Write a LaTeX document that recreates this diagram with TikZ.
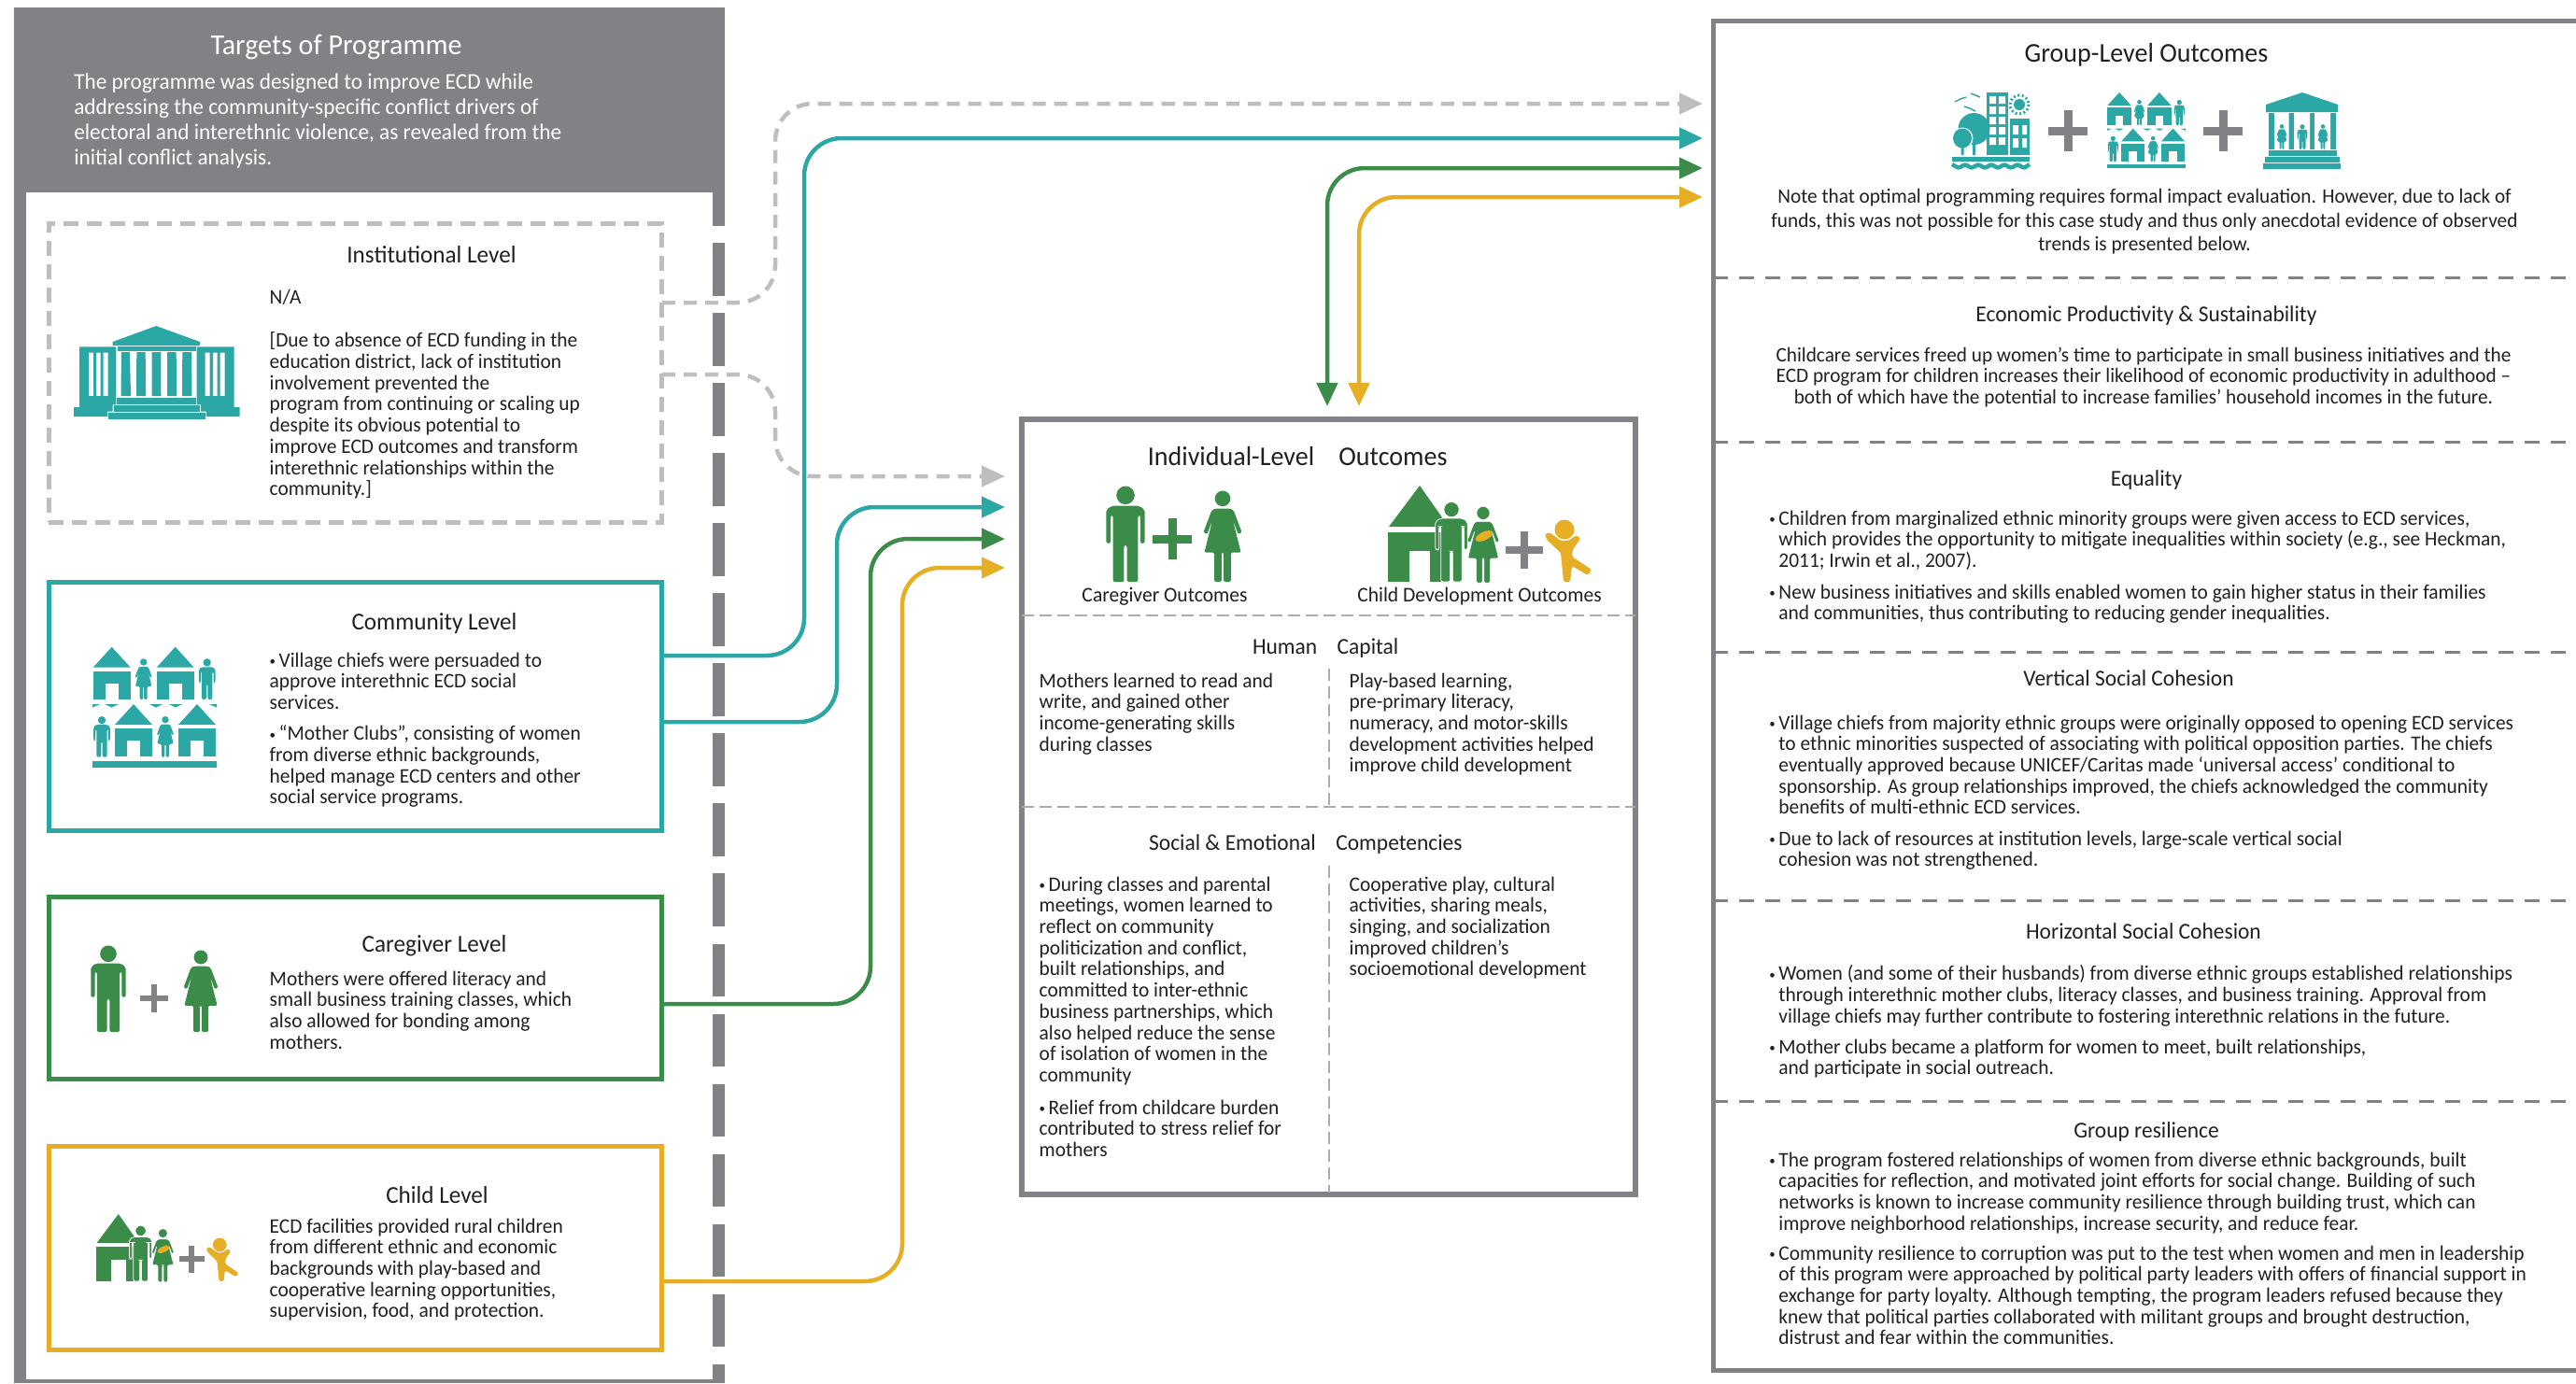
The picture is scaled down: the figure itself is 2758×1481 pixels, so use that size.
\documentclass[tikz,border=0pt]{standalone}
\usepackage{fontspec}
\setmainfont[FakeStretch=0.967]{Carlito}
\usetikzlibrary{arrows.meta}
\definecolor{tealc}{HTML}{2BA8A5}
\definecolor{greenc}{HTML}{3A8C48}
\definecolor{yellowc}{HTML}{E5AE25}
\definecolor{grayc}{HTML}{808285}
\definecolor{lightc}{HTML}{BCBEC0}
\definecolor{inkc}{HTML}{231F20}
\def\tiptri{Triangle[length=0.25cm,width=0.22cm]}
\def\smalldot{\raisebox{0.35pt}{\fontsize{3.8}{4}\selectfont •}\hspace{1pt}}
\tikzset{
	bodytext/.style={inner sep=0, anchor=north west, align=left, text=inkc, font=\fontsize{6.3}{6.46}\selectfont},
	captext/.style={inner sep=0, text=inkc, text height=5.5pt, text depth=1.5pt, font=\fontsize{6.35}{8}\selectfont},
	headtext/.style={inner sep=0, text=inkc, text height=5.5pt, text depth=1.5pt, font=\fontsize{6.9}{8}\selectfont},
	levelhead/.style={inner sep=0, text=inkc, text height=6pt, text depth=1.2pt, font=\fontsize{7.4}{9}\selectfont},
	bigtext/.style={inner sep=0, text=inkc, text height=6.5pt, text depth=1.5pt, font=\fontsize{8.25}{10}\selectfont},
	levelbox/.style={rectangle, inner sep=0, outer sep=0, minimum width=6.565cm, line width=0.05cm},
	flowline/.style={line width=0.045cm, rounded corners=0.4cm, -{\tiptri}},
	grayflow/.style={flowline, color=lightc, dash pattern=on 0.14cm off 0.09cm},
	twoflow/.style={line width=0.045cm, rounded corners=0.4cm, {\tiptri}-{\tiptri}},
	rowdash/.style={color=grayc, line width=0.03cm, dash pattern=on 0.16cm off 0.12cm},
	celldash/.style={color=lightc!70!grayc, line width=0.02cm, dash pattern=on 0.13cm off 0.06cm},
	manicon/.pic={
		\path[pic actions] (0, 10) circle (9.5);
		\path[pic actions, rounded corners=0.6pt] (-20, 60) -- (-20, 25) -- (-14, 21) -- (14, 21) -- (20, 25) -- (20, 60) -- (15.5, 60) -- (15.5, 31) -- (13, 31) -- (13, 100) -- (1.5, 100) -- (1.5, 62) -- (-1.5, 62) -- (-1.5, 100) -- (-13, 100) -- (-13, 31) -- (-15.5, 31) -- (-15.5, 60) -- cycle;
	},
	womanicon/.pic={
		\path[pic actions] (0, 9) circle (8.5);
		\path[pic actions, rounded corners=0.4pt] (-8, 20) -- (8, 20) -- (12, 22) -- (21, 46) -- (17, 48) -- (11, 32) -- (20, 68) -- (9, 68) -- (9, 100) -- (1.2, 100) -- (1.2, 68) -- (-1.2, 68) -- (-1.2, 100) -- (-9, 100) -- (-9, 68) -- (-20, 68) -- (-11, 32) -- (-17, 48) -- (-21, 46) -- (-12, 22) -- cycle;
	},
	houseicon/.pic={
		\path[pic actions] (-20, 22) -- (0, 0) -- (20, 22) -- cycle;
		\path[pic actions] (-20, 26) rectangle (20, 56);
		\fill[white] (-7, 39) rectangle (7, 56);
	},
	plusicon/.pic={
		\path[pic actions] (-21, -4.5) rectangle (21, 4.5);
		\path[pic actions] (-4.5, -22) rectangle (4.5, 22);
	},
	villageicon/.pic={
		\pic[fill=tealc, transform shape] at (20.7, 0) {houseicon};
		\pic[fill=tealc, transform shape, scale=0.44] at (54.7, 12.3) {womanicon};
		\pic[fill=tealc, transform shape] at (88.7, 0) {houseicon};
		\pic[fill=tealc, transform shape, scale=0.44] at (122.7, 12.3) {manicon};
		\fill[tealc] (0, 61.3) -- (8, 61.3) -- (0, 64.8) -- cycle (13, 61.3) -- (28, 61.3) -- (20.5, 64.8) -- cycle (61, 61.3) -- (75, 61.3) -- (68, 64.8) -- cycle (82, 61.3) -- (96, 61.3) -- (89, 64.8) -- cycle (125, 61.3) -- (133, 61.3) -- (133, 64.8) -- cycle;
		\pic[fill=tealc, transform shape, scale=0.44] at (10, 74) {manicon};
		\pic[fill=tealc, transform shape] at (44, 61.3) {houseicon};
		\pic[fill=tealc, transform shape, scale=0.44] at (78, 74) {womanicon};
		\pic[fill=tealc, transform shape] at (112, 61.3) {houseicon};
		\fill[tealc] (0, 122.3) rectangle (133, 129.3);
	},
	familyicon/.pic={
		\fill[greenc] (1, 44) -- (34, 0) -- (65, 44) -- cycle;
		\fill[greenc] (0, 50) rectangle (65, 103);
		\fill[white] (23, 70) rectangle (45, 103);
		\pic[fill=greenc, draw=white, line width=0.008cm, transform shape, scale=0.86] at (68, 17) {manicon};
		\pic[fill=greenc, draw=white, line width=0.004cm, transform shape, scale=0.82] at (102, 22) {womanicon};
		\fill[yellowc, rotate around={25:(103, 54)}] (103, 54) ellipse (10 and 4.5);
		\pic[fill=grayc, transform shape, scale=0.93] at (146, 69) {plusicon};
		\fill[yellowc] (189, 47) circle (10.5);
		\fill[yellowc, rounded corners=0.5pt] (168, 52) -- (173, 50) -- (185, 59) -- (193, 59) -- (202, 53) -- (206, 57) -- (198, 68) -- (197, 76) -- (218, 90) -- (214, 96) -- (197, 86) -- (195, 103) -- (188, 103) -- (185, 72) -- (170, 58) -- cycle;
	},
}

\begin{document}
\begin{tikzpicture}[x=0.01cm, y=-0.01cm]
	%%%%% START %%%%%
	\useasboundingbox (0, 0) rectangle (2758, 1481);

	\draw[color=grayc, line width=0.13cm, dash pattern=on 0.566cm off 0.184cm] (769.5, 185) -- (769.5, 1481);
	\fill[grayc] (15, 8) rectangle (776, 206);
	\fill[grayc] (15, 206) rectangle (28, 1481);
	\fill[grayc] (15, 1477) rectangle (763, 1481);

	\node[bigtext, text=white, font=\fontsize{8.85}{10}\selectfont] (targets) at (360, 50) {Targets of Programme};
	\node[bodytext, text=white, font=\fontsize{6.85}{7.7}\selectfont] (targetstext) at (78.6, 78) {The programme was designed to improve ECD while\\addressing the community-specific conflict drivers of\\electoral and interethnic violence, as revealed from the\\initial conflict analysis.};

	% boxes on the left
	\node[levelbox, draw=lightc, dash pattern=on 0.16cm off 0.09cm, minimum height=3.19cm] (institution) at (380.5, 399.5) {};
	\node[levelbox, draw=tealc, minimum height=2.65cm] (community) at (380.5, 756.5) {};
	\node[levelbox, draw=greenc, minimum height=1.94cm] (caregiver) at (380.5, 1058) {};
	\node[levelbox, draw=yellowc, minimum height=2.17cm] (child) at (380.5, 1336.5) {};

	% boxes on the right
	\node[levelbox, draw=grayc, line width=0.06cm, minimum width=6.57cm, minimum height=8.3cm, fill=white] (individual) at (1422.5, 864) {};
	\draw[color=grayc, line width=0.05cm] (2758, 22.5) -- (1834, 22.5) -- (1834, 1467) -- (2758, 1467);

	\coordinate (groupgray) at (1823, 111);
	\coordinate (groupteal) at (1823, 148);
	\coordinate (groupgreen) at (1823, 180);
	\coordinate (groupyellow) at (1823, 211);
	\coordinate (indgray) at (1076, 510);
	\coordinate (indteal) at (1076, 543);
	\coordinate (indgreen) at (1076, 577);
	\coordinate (indyellow) at (1076, 608);
	\coordinate (topgreen) at (1421, 435);
	\coordinate (topyellow) at (1455, 435);

	\draw[grayflow] (institution.east |- 0, 324) -| (830, 111) -- (groupgray);
	\draw[grayflow] (institution.east |- 0, 401) -| (830, 510) -- (indgray);
	\draw[flowline, color=tealc] (community.east |- 0, 702) -| (861, 148) -- (groupteal);
	\draw[flowline, color=tealc] (community.east |- 0, 773) -| (896, 543) -- (indteal);
	\draw[flowline, color=greenc] (caregiver.east |- 0, 1075) -| (932, 577) -- (indgreen);
	\draw[flowline, color=yellowc] (child.east |- 0, 1372) -| (966, 608) -- (indyellow);
	\draw[twoflow, color=greenc] (topgreen) |- (groupgreen);
	\draw[twoflow, color=yellowc] (topyellow) |- (groupyellow);

	% left column
	\node[levelhead] (institutionhead) at (462, 273) {Institutional Level};
	\node[bodytext] (institutionna) at (288, 309) {N/A};
	\node[bodytext] (institutiontext) at (288, 355) {[Due to absence of ECD funding in the\\education district, lack of institution\\involvement prevented the\\program from continuing or scaling up\\despite its obvious potential to\\improve ECD outcomes and transform\\interethnic relationships within the\\community.]};
	\fill[tealc] (120.7, 370) -- (120.7, 366) -- (167.3, 349) -- (214, 366) -- (214, 370) -- cycle;
	\fill[tealc] (126, 371.3) rectangle (210, 376);
	\fill[tealc] (130, 377) -- (139, 377) -- (140, 424) -- (129.5, 424) -- cycle (146.3, 377) -- (155.7, 377) -- (156, 424) -- (146, 424) -- cycle (162.7, 377) -- (172.3, 377) -- (172.5, 424) -- (162.5, 424) -- cycle (179, 377) -- (188.7, 377) -- (189, 424) -- (179, 424) -- cycle (195.3, 377) -- (205, 377) -- (205.5, 424) -- (195, 424) -- cycle;
	\fill[tealc] (124.7, 426) rectangle (210, 433.3);
	\fill[tealc] (121.7, 434) rectangle (214.3, 440.7);
	\fill[tealc] (115.7, 441.7) rectangle (220, 449);
	\fill[tealc, even odd rule] (85, 371.3) -- (124.3, 371.3) -- (124.3, 433.3) -- (120.7, 433.3) -- (120.7, 440.7) -- (115, 440.7) -- (115, 446) -- (79, 446) -- (79, 436) -- (85, 436) -- cycle (95, 377.7) rectangle (100, 424) (103, 377.7) rectangle (107.7, 424) (110.7, 377.7) rectangle (115.7, 424);
	\fill[tealc, even odd rule] (250.5, 371.3) -- (210.7, 371.3) -- (210.7, 433.3) -- (215, 433.3) -- (215, 440.7) -- (220.5, 440.7) -- (220.5, 446) -- (256.7, 446) -- (256.7, 436) -- (250.5, 436) -- cycle (219.7, 377.7) rectangle (224.7, 424) (228, 377.7) rectangle (232.7, 424) (235.7, 377.7) rectangle (240.7, 424);

	\node[levelhead] (communityhead) at (465, 666) {Community Level};
	\node[bodytext] (communitytexta) at (288, 698) {\smalldot Village chiefs were persuaded to\\approve interethnic ECD social\\services.};
	\node[bodytext] (communitytextb) at (288, 776) {\smalldot “Mother Clubs”, consisting of women\\from diverse ethnic backgrounds,\\helped manage ECD centers and other\\social service programs.};
	\pic at (99, 692.7) {villageicon};

	\node[levelhead] (caregiverhead) at (465, 1011) {Caregiver Level};
	\node[bodytext] (caregivertext) at (288, 1039) {Mothers were offered literacy and\\small business training classes, which\\also allowed for bonding among\\mothers.};
	\pic[fill=greenc, scale=0.93] at (116, 1012) {manicon};
	\pic[fill=grayc, scale=0.7] at (165, 1069) {plusicon};
	\pic[fill=greenc, scale=0.88] at (215, 1017) {womanicon};

	\node[levelhead] (childhead) at (468, 1280) {Child Level};
	\node[bodytext] (childtext) at (288, 1304) {ECD facilities provided rural children\\from different ethnic and economic\\backgrounds with play-based and\\cooperative learning opportunities,\\supervision, food, and protection.};
	\pic[scale=0.7] at (103, 1300) {familyicon};

	% middle column
	\node[bigtext, anchor=east] (individualhead) at (1408, 490) {Individual-Level};
	\node[bigtext, anchor=west] (outcomeshead) at (1432.7, 490) {Outcomes};
	\pic[fill=greenc, scale=1.03] at (1205, 520) {manicon};
	\pic[fill=greenc] at (1255, 577) {plusicon};
	\pic[fill=greenc, scale=0.98] at (1309, 525) {womanicon};
	\pic at (1486, 520) {familyicon};
	\node[captext] (caregiveroutcomes) at (1247, 637) {Caregiver Outcomes};
	\node[captext] (childoutcomes) at (1584, 637) {Child Development Outcomes};

	\draw[celldash] (individual.west |- 0, 659) -- (individual.east |- 0, 659);
	\draw[celldash] (individual.west |- 0, 864) -- (individual.east |- 0, 864);
	\draw[celldash] (1423, 716) -- (1423, 864);
	\draw[celldash] (1423, 927) -- (1423, 1277);

	\node[headtext, anchor=east] (humanhead) at (1411, 693) {Human};
	\node[headtext, anchor=west] (capitalhead) at (1431, 693) {Capital};
	\node[bodytext] (humanleft) at (1112, 720) {Mothers learned to read and\\write, and gained other\\income-generating skills\\during classes};
	\node[bodytext] (humanright) at (1444, 720) {Play-based learning,\\pre-primary literacy,\\numeracy, and motor-skills\\development activities helped\\improve child development};

	\node[headtext, anchor=east] (socialhead) at (1409.5, 903) {Social \& Emotional};
	\node[headtext, anchor=west] (competenhead) at (1429.6, 903) {Competencies};
	\node[bodytext] (socialleft) at (1112, 938) {\smalldot During classes and parental\\meetings, women learned to\\reflect on community\\politicization and conflict,\\built relationships, and\\committed to inter-ethnic\\business partnerships, which\\also helped reduce the sense\\of isolation of women in the\\community};
	\node[bodytext] (socialreliefs) at (1112, 1177) {\smalldot Relief from childcare burden\\contributed to stress relief for\\mothers};
	\node[bodytext] (socialright) at (1444, 938) {Cooperative play, cultural\\activities, sharing meals,\\singing, and socialization\\improved children’s\\socioemotional development};

	% right column
	\node[bigtext] (grouphead) at (2298, 58) {Group-Level Outcomes};
	\fill[tealc] (2127, 99) rectangle (2150, 166);
	\fill[white] (2130, 103) rectangle (2137, 111) (2140, 103) rectangle (2147, 111) (2130, 114) rectangle (2137, 122) (2140, 114) rectangle (2147, 122) (2130, 125) rectangle (2137, 133) (2140, 125) rectangle (2147, 133) (2130, 136) rectangle (2137, 144) (2140, 136) rectangle (2147, 144) (2130, 147) rectangle (2137, 155) (2140, 147) rectangle (2147, 155);
	\fill[tealc] (2152, 127) rectangle (2173, 166);
	\fill[white] (2155, 134) rectangle (2161, 144) (2165, 134) rectangle (2170, 144) (2155, 148) rectangle (2161, 158) (2165, 148) rectangle (2170, 158);
	\fill[tealc] (2113.5, 138) ellipse (17 and 17);
	\fill[white] (2101, 148) circle (11.5);
	\fill[tealc] (2101, 148) ellipse (10 and 10.5);
	\fill[tealc] (2112, 150) rectangle (2115, 166) (2099.5, 155) rectangle (2102.5, 166);
	\fill[tealc] (2162, 112) circle (6);
	\draw[color=tealc, line width=0.03cm, dash pattern=on 0.02cm off 0.025cm] (2162, 112) circle (10);
	\draw[color=tealc, line width=0.015cm] (2093, 109) -- (2099, 106) -- (2105, 104) (2110, 100) -- (2115, 102) -- (2120, 104) (2103, 114) -- (2109, 116) -- (2115, 119);
	\fill[tealc] (2090, 168) rectangle (2173, 173);
	\draw[color=tealc, line width=0.045cm, rounded corners=0.6pt] (2090, 176) -- (2097, 180) -- (2104, 176) -- (2111, 180) -- (2118, 176) -- (2125, 180) -- (2132, 176) -- (2139, 180) -- (2146, 176) -- (2153, 180) -- (2160, 176) -- (2167, 180) -- (2173, 176);
	\pic[fill=grayc] at (2214, 140) {plusicon};
	\pic[scale=0.63] at (2256, 99) {villageicon};
	\pic[fill=grayc] at (2380, 140) {plusicon};
	\fill[tealc] (2426, 120) -- (2426, 112) -- (2465, 99) -- (2503, 112) -- (2503, 120) -- cycle;
	\fill[tealc] (2429, 121) rectangle (2501, 160);
	\fill[white] (2435, 121) rectangle (2450.5, 160) (2456, 121) rectangle (2473, 160) (2478, 121) rectangle (2495, 160);
	\pic[fill=tealc, scale=0.27] at (2443, 133) {womanicon};
	\pic[fill=tealc, scale=0.27] at (2465, 133) {manicon};
	\pic[fill=tealc, scale=0.27] at (2487, 133) {womanicon};
	\fill[tealc] (2429, 161) rectangle (2502, 167) (2425, 168) rectangle (2505, 174) (2423, 175) rectangle (2506, 181);
	\node[bodytext, anchor=north, align=center, font=\fontsize{6.25}{7.2}\selectfont] (groupnote) at (2296, 202) {Note that optimal programming requires formal impact evaluation. However, due to lack of\\funds, this was not possible for this case study and thus only anecdotal evidence of observed\\trends is presented below.};

	\draw[rowdash] (1834, 297) -- (2758, 297);
	\node[headtext] (economichead) at (2298, 337) {Economic Productivity \& Sustainability};
	\node[bodytext, anchor=north, align=center, font=\fontsize{6.25}{6.46}\selectfont] (economictext) at (2295, 371) {Childcare services freed up women’s time to participate in small business initiatives and the\\ECD program for children increases their likelihood of economic productivity in adulthood –\\both of which have the potential to increase families’ household incomes in the future.};

	\draw[rowdash] (1834, 473) -- (2758, 473);
	\node[headtext] (equalityhead) at (2298, 513) {Equality};
	\node[bodytext] (equalitya) at (1903.7, 546) {\llap{\smalldot}Children from marginalized ethnic minority groups were given access to ECD services,\\which provides the opportunity to mitigate inequalities within society (e.g., see Heckman,\\2011; Irwin et al., 2007).};
	\node[bodytext] (equalityb) at (1903.7, 625) {\llap{\smalldot}New business initiatives and skills enabled women to gain higher status in their families\\and communities, thus contributing to reducing gender inequalities.};

	\draw[rowdash] (1834, 698) -- (2758, 698);
	\node[headtext] (verticalhead) at (2279, 727) {Vertical Social Cohesion};
	\node[bodytext] (verticala) at (1903.7, 765) {\llap{\smalldot}Village chiefs from majority ethnic groups were originally opposed to opening ECD services\\to ethnic minorities suspected of associating with political opposition parties. The chiefs\\eventually approved because UNICEF/Caritas made ‘universal access’ conditional to\\sponsorship. As group relationships improved, the chiefs acknowledged the community\\benefits of multi-ethnic ECD services.};
	\node[bodytext] (verticalb) at (1903.7, 889) {\llap{\smalldot}Due to lack of resources at institution levels, large-scale vertical social\\cohesion was not strengthened.};

	\draw[rowdash] (1834, 964) -- (2758, 964);
	\node[headtext] (horizontalhead) at (2295, 998) {Horizontal Social Cohesion};
	\node[bodytext] (horizontala) at (1903.7, 1033) {\llap{\smalldot}Women (and some of their husbands) from diverse ethnic groups established relationships\\through interethnic mother clubs, literacy classes, and business training. Approval from\\village chiefs may further contribute to fostering interethnic relations in the future.};
	\node[bodytext] (horizontalb) at (1903.7, 1112) {\llap{\smalldot}Mother clubs became a platform for women to meet, built relationships,\\and participate in social outreach.};

	\draw[rowdash] (1834, 1179) -- (2758, 1179);
	\node[headtext] (resiliencehead) at (2298, 1211) {Group resilience};
	\node[bodytext] (resiliencea) at (1903.7, 1233) {\llap{\smalldot}The program fostered relationships of women from diverse ethnic backgrounds, built\\capacities for reflection, and motivated joint efforts for social change. Building of such\\networks is known to increase community resilience through building trust, which can\\improve neighborhood relationships, increase security, and reduce fear.};
	\node[bodytext] (resilienceb) at (1903.7, 1333) {\llap{\smalldot}Community resilience to corruption was put to the test when women and men in leadership\\of this program were approached by political party leaders with offers of financial support in\\exchange for party loyalty. Although tempting, the program leaders refused because they\\knew that political parties collaborated with militant groups and brought destruction,\\distrust and fear within the communities.};

	%%%%% END %%%%%
\end{tikzpicture}
\end{document}
